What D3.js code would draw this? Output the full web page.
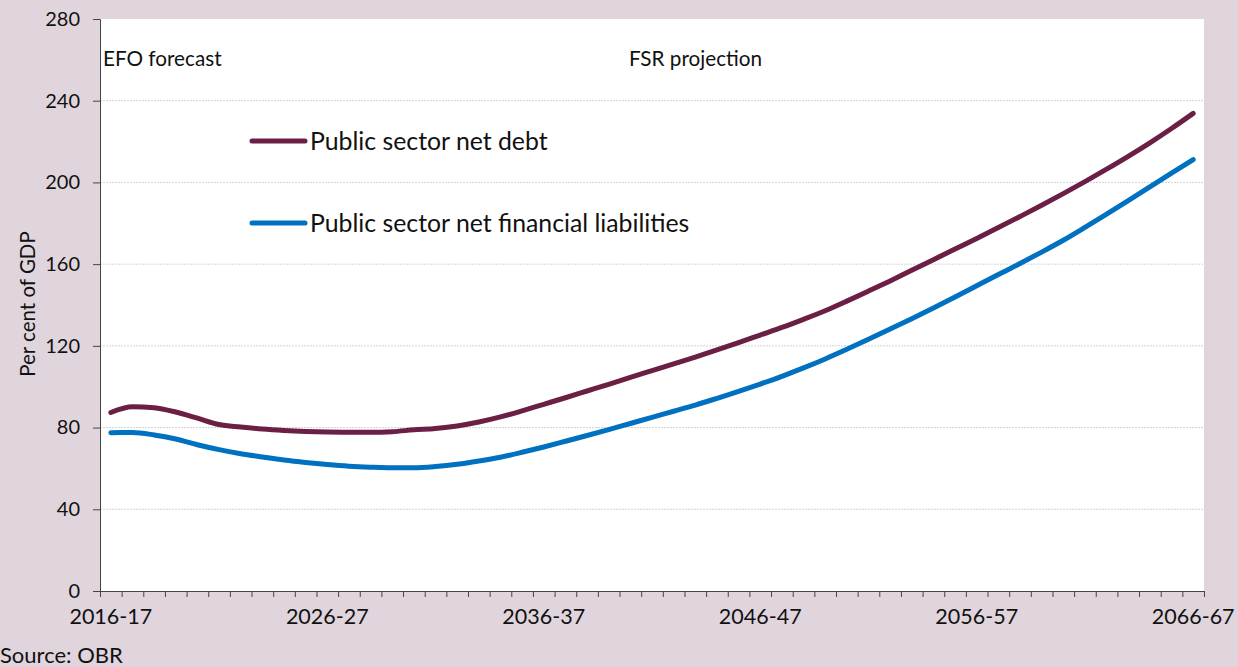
<!DOCTYPE html>
<html>
<head>
<meta charset="utf-8">
<script src="https://cdn.jsdelivr.net/npm/d3@7"></script>
<style>
  html, body { margin: 0; padding: 0; background: #e1d5dd; }
  svg { display: block; font-family: Lato, "Noto Sans", sans-serif; }
</style>
</head>
<body>
<div class="chart"></div>
<script>
// fiscal years 2016-17 .. 2066-67
const years = d3.range(2016, 2067).map(y => y + '-' + String(y + 1).slice(2))
const xLabels = ['2016-17', '2026-27', '2036-37', '2046-47', '2056-57', '2066-67']
const yTicks = [0, 40, 80, 120, 160, 200, 240, 280]

// per cent of GDP
const psnd = [
  87.4, 90.2, 89.7, 87.6, 84.6, 81.5, 80.3, 79.3, 78.6, 78.1,
  77.8, 77.7, 77.7, 78.0, 78.9, 79.6, 80.8, 82.7, 85.2, 88.2,
  91.4, 94.6, 97.9, 101.2, 104.6, 107.9, 111.2, 114.5, 118.0, 121.6,
  125.3, 129.0, 133.0, 137.2, 141.9, 146.8, 151.8, 157.0, 162.2, 167.4,
  172.6, 177.9, 183.3, 188.8, 194.5, 200.4, 206.5, 212.8, 219.4, 226.4,
  233.8
]
const psnfl = [
  77.5, 77.6, 76.4, 74.4, 71.6, 69.2, 67.2, 65.6, 64.1, 62.9,
  61.9, 61.1, 60.6, 60.3, 60.3, 60.9, 62.0, 63.6, 65.5, 67.9,
  70.5, 73.3, 76.1, 79.0, 82.0, 85.0, 88.0, 91.0, 94.3, 97.7,
  101.3, 105.1, 109.2, 113.6, 118.3, 123.2, 128.2, 133.3, 138.5, 143.9,
  149.4, 154.9, 160.3, 165.9, 171.7, 178.0, 184.5, 191.1, 197.8, 204.5,
  211.2
]

const series = [
  { name: 'Public sector net debt', values: psnd, color: '#6b1f45' },
  { name: 'Public sector net financial liabilities', values: psnfl, color: '#0070c0' }
]

const width = 1238, height = 667
const plot = { left: 100, right: 1204, top: 19, bottom: 591 }

const svg = d3.select('.chart').append('svg')
  .attr('width', width)
  .attr('height', height)

// plot background
svg.append('rect')
  .attr('x', plot.left).attr('y', plot.top)
  .attr('width', plot.right - plot.left).attr('height', plot.bottom - plot.top)
  .attr('fill', '#fff')

const x = d3.scaleBand().domain(years).range([plot.left, plot.right]).padding(0)
const xEdge = d3.scaleLinear().domain([0, years.length]).range([plot.left, plot.right])
const y = d3.scaleLinear().domain([0, 280]).range([plot.bottom, plot.top])
const cx = d => x(d) + x.bandwidth() / 2

// gridlines
svg.append('g').selectAll('line')
  .data(yTicks.filter(t => t > 0 && t < 280))
  .enter().append('line')
  .attr('x1', plot.left).attr('x2', plot.right)
  .attr('y1', d => y(d)).attr('y2', d => y(d))
  .attr('stroke', '#d4d4d4').attr('stroke-width', 1)
  .attr('stroke-dasharray', '2,1')

// y axis
const yAxis = svg.append('g')
  .attr('transform', 'translate(' + plot.left + ',0)')
  .call(d3.axisLeft(y).tickValues(yTicks).tickSize(7).tickPadding(13))
yAxis.selectAll('text').attr('font-size', 20).attr('fill', '#111').attr('font-family', 'Lato, sans-serif')
yAxis.selectAll('line, path').attr('stroke', '#444')

// x axis: ticks on category edges
const xAxis = svg.append('g')
  .attr('transform', 'translate(0,' + plot.bottom + ')')
  .call(d3.axisBottom(xEdge).tickValues(d3.range(0, years.length + 1)).tickSize(6).tickFormat(''))
xAxis.selectAll('line, path').attr('stroke', '#444')

const xLab = svg.append('g')
  .attr('transform', 'translate(0,' + plot.bottom + ')')
  .call(d3.axisBottom(x).tickValues(xLabels).tickSize(0).tickPadding(18))
xLab.select('.domain').remove()
xLab.selectAll('text').attr('font-size', 21.5).attr('fill', '#111').attr('font-family', 'Lato, sans-serif')

// lines
const line = d3.line()
  .x((d, i) => cx(years[i]))
  .y(d => y(d))
  .curve(d3.curveMonotoneX)

svg.append('g').selectAll('path')
  .data(series)
  .enter().append('path')
  .attr('d', d => line(d.values))
  .attr('fill', 'none')
  .attr('stroke', d => d.color)
  .attr('stroke-width', 5)
  .attr('stroke-linecap', 'round')
  .attr('stroke-linejoin', 'round')

// legend
const legend = svg.append('g').selectAll('g')
  .data(series)
  .enter().append('g')
  .attr('transform', (d, i) => 'translate(252,' + (141 + i * 82) + ')')
legend.append('line')
  .attr('x1', 0).attr('x2', 53)
  .attr('stroke', d => d.color).attr('stroke-width', 5).attr('stroke-linecap', 'round')
legend.append('text')
  .attr('x', 58).attr('y', 8.5)
  .attr('font-size', 24.8).attr('fill', '#111')
  .text(d => d.name)

// annotations
svg.append('text').attr('x', 103).attr('y', 66).attr('font-size', 20.7).attr('fill', '#111').text('EFO forecast')
svg.append('text').attr('x', 629).attr('y', 66).attr('font-size', 20.7).attr('fill', '#111').text('FSR projection')

svg.append('text')
  .attr('transform', 'translate(35,304) rotate(-90)')
  .attr('text-anchor', 'middle')
  .attr('font-size', 20.5).attr('fill', '#111')
  .text('Per cent of GDP')

svg.append('text').attr('x', 0).attr('y', 663).attr('font-size', 22).attr('fill', '#111').text('Source: OBR')
</script>
</body>
</html>
